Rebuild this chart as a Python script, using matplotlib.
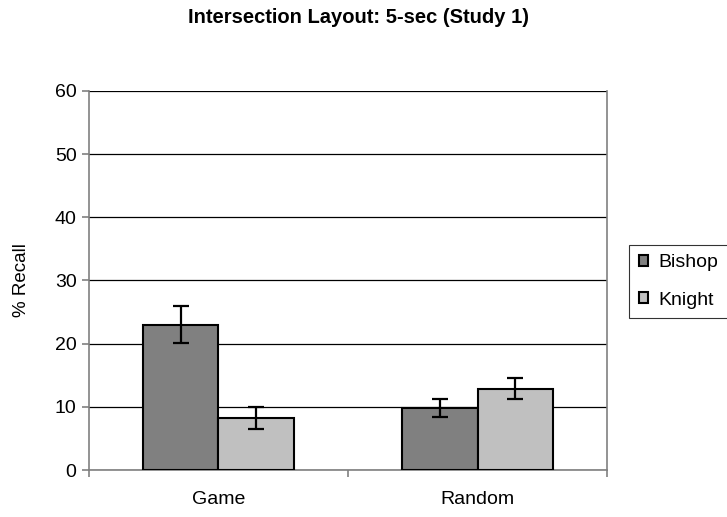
import numpy as np
import matplotlib.pyplot as plt

plt.rcParams['font.family'] = ['Liberation Sans', 'DejaVu Sans']

categories = ["Game", "Random"]
series = ["Bishop", "Knight"]
bishop = [23.0, 9.8]
knight = [8.2, 12.9]
bishop_err = [2.9, 1.4]
knight_err = [1.7, 1.7]
colors = ["#808080", "#c0c0c0"]

fig = plt.figure(figsize=(7.27, 5.17), dpi=100)
ax = fig.add_axes([0.1224, 0.0909, 0.7126, 0.7331])

x = np.arange(len(categories))
w = 0.29
ekw = dict(elinewidth=1.6, capsize=6, capthick=1.6, ecolor="black")
ax.bar(x - w / 2, bishop, w, color=colors[0], edgecolor="black", linewidth=1.5,
       yerr=bishop_err, error_kw=ekw, label=series[0], zorder=3)
ax.bar(x + w / 2, knight, w, color=colors[1], edgecolor="black", linewidth=1.5,
       yerr=knight_err, error_kw=ekw, label=series[1], zorder=3)

ax.set_xlim(-0.5, 1.5)
ax.set_ylim(0, 60)
ax.set_yticks(np.arange(0, 61, 10))
ax.yaxis.grid(True, color="black", linewidth=0.9, zorder=0)
ax.set_xticks(x)
ax.set_xticklabels(categories, fontsize=14)
ax.tick_params(axis="x", length=0, pad=15)
ax.set_xticks([-0.5, 0.5, 1.5], minor=True)
ax.tick_params(axis="x", which="minor", length=5, color="#808080", width=1.2)
ax.tick_params(axis="y", labelsize=14, length=5, color="#808080", width=1.2, pad=4)
for s in ax.spines.values():
    s.set_color("#808080")
    s.set_linewidth(1.2)
ax.spines["top"].set_visible(False)

ax.set_ylabel("% Recall", fontsize=13.5, labelpad=18)
fig.text(0.493, 0.967, "Intersection Layout: 5-sec (Study 1)", ha="center",
         va="center", fontsize=14.5, fontweight="bold")

leg = fig.legend(loc="upper left", bbox_to_anchor=(0.865, 0.527), fontsize=14,
                 frameon=True, fancybox=False, edgecolor="black",
                 handlelength=0.5, handleheight=0.5, handletextpad=0.5,
                 labelspacing=1.05, borderpad=0.5, borderaxespad=0)
leg.get_frame().set_linewidth(0.8)

fig.savefig("out.png", dpi=100)
